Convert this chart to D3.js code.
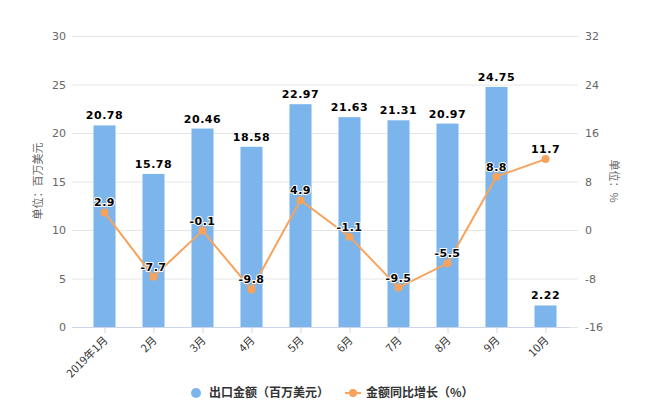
<!DOCTYPE html>
<html><head><meta charset="utf-8">
<script src="https://cdn.jsdelivr.net/npm/d3@7/dist/d3.min.js"></script>
<style>body{margin:0;background:#fff;font-family:"DejaVu Sans","Noto Sans CJK SC",sans-serif;}</style>
</head><body><svg id="c" width="650" height="420"></svg>
<script>
const categories = ["2019年1月","2月","3月","4月","5月","6月","7月","8月","9月","10月"];
const exportValues = [20.78,15.78,20.46,18.58,22.97,21.63,21.31,20.97,24.75,2.22];
const growthValues = [2.9,-7.7,-0.1,-9.8,4.9,-1.1,-9.5,-5.5,8.8,11.7];
const leftTicks = [0,5,10,15,20,25,30];
const rightTicks = [-16,-8,0,8,16,24,32];
const seriesNames = ["出口金额（百万美元）","金额同比增长（%）"];
const leftTitle = "单位：百万美元";
const rightTitle = "单位：%";

const svg = d3.select("#c");
const blue = "#7cb5ec", orange = "#f7a35c";
const x = d3.scaleBand().domain(categories).range([80,570]).paddingInner(0.55).paddingOuter(0.275);
const yL = d3.scaleLinear().domain([0,30]).range([327,36]);
const yR = d3.scaleLinear().domain([-16,32]).range([327,36]);

// grid
svg.append("g").selectAll("line").data(leftTicks).join("line")
  .attr("x1",72).attr("x2",578).attr("y1",d=>yL(d)+0.5).attr("y2",d=>yL(d)+0.5)
  .attr("stroke","#e6e6e6").attr("stroke-width",1);
// left labels
svg.append("g").selectAll("text").data(leftTicks).join("text")
  .attr("x",66).attr("y",d=>yL(d)+4).attr("text-anchor","end")
  .attr("font-size",11).attr("fill","#666").text(d=>d);
svg.append("g").selectAll("text").data(rightTicks).join("text")
  .attr("x",585).attr("y",d=>yR(d)+4).attr("text-anchor","start")
  .attr("font-size",11).attr("fill","#666").text(d=>d);
svg.append("text").attr("transform","translate(42,181) rotate(-90)").attr("text-anchor","middle")
  .attr("font-size",11).attr("fill","#666").attr("font-family","Noto Sans CJK SC").text(leftTitle);
svg.append("text").attr("transform","translate(610,181) rotate(90)").attr("text-anchor","middle")
  .attr("font-size",11).attr("fill","#666").attr("font-family","Noto Sans CJK SC").text(rightTitle);

// bars
svg.append("g").selectAll("rect").data(exportValues).join("rect")
  .attr("x",(d,i)=>x(categories[i])).attr("width",x.bandwidth())
  .attr("y",d=>yL(d)).attr("height",d=>yL(0)-yL(d)).attr("fill",blue);

// x axis
svg.append("line").attr("x1",72).attr("x2",570).attr("y1",327.5).attr("y2",327.5).attr("stroke","#ccd6eb");
svg.append("g").selectAll("line").data(categories).join("line")
  .attr("x1",d=>x(d)+x.bandwidth()/2+0.5).attr("x2",d=>x(d)+x.bandwidth()/2+0.5)
  .attr("y1",327).attr("y2",333).attr("stroke","#ccd6eb");
svg.append("g").selectAll("text").data(categories).join("text")
  .attr("transform",d=>`translate(${x(d)+x.bandwidth()/2+4},${341}) rotate(-45)`)
  .attr("text-anchor","end").attr("font-size",11).attr("fill","#333")
  .attr("font-family","Noto Sans CJK SC").text(d=>d);

// bar labels
svg.append("g").selectAll("text").data(exportValues).join("text")
  .attr("x",(d,i)=>x(categories[i])+x.bandwidth()/2).attr("y",d=>yL(d)-6)
  .attr("text-anchor","middle").attr("font-size",11).attr("font-weight","bold").attr("fill","#000")
  .attr("stroke","#fff").attr("stroke-width",2).attr("paint-order","stroke").attr("letter-spacing",0.5)
  .text(d=>d.toFixed(2));

// line
const cx = i=>x(categories[i])+x.bandwidth()/2;
svg.append("path").datum(growthValues)
  .attr("d",d3.line().x((d,i)=>cx(i)).y(d=>yR(d)))
  .attr("fill","none").attr("stroke",orange).attr("stroke-width",2);
svg.append("g").selectAll("circle").data(growthValues).join("circle")
  .attr("cx",(d,i)=>cx(i)).attr("cy",d=>yR(d)).attr("r",4).attr("fill",orange);
svg.append("g").selectAll("text").data(growthValues).join("text")
  .attr("x",(d,i)=>cx(i)).attr("y",d=>yR(d)-6)
  .attr("text-anchor","middle").attr("font-size",11).attr("font-weight","bold").attr("fill","#000")
  .attr("stroke","#fff").attr("stroke-width",2).attr("paint-order","stroke").attr("letter-spacing",0.5)
  .text(d=>d);

// legend
const lg = svg.append("g").attr("font-family","Noto Sans CJK SC").attr("font-size",12).attr("font-weight","bold").attr("fill","#333");
lg.append("circle").attr("cx",196).attr("cy",393).attr("r",5).attr("fill",blue);
lg.append("text").attr("x",209).attr("y",397).text(seriesNames[0]);
lg.append("line").attr("x1",345).attr("x2",361).attr("y1",393).attr("y2",393).attr("stroke",orange).attr("stroke-width",2);
lg.append("circle").attr("cx",353).attr("cy",393).attr("r",4).attr("fill",orange);
lg.append("text").attr("x",366).attr("y",397).text(seriesNames[1]);
</script></body></html>
